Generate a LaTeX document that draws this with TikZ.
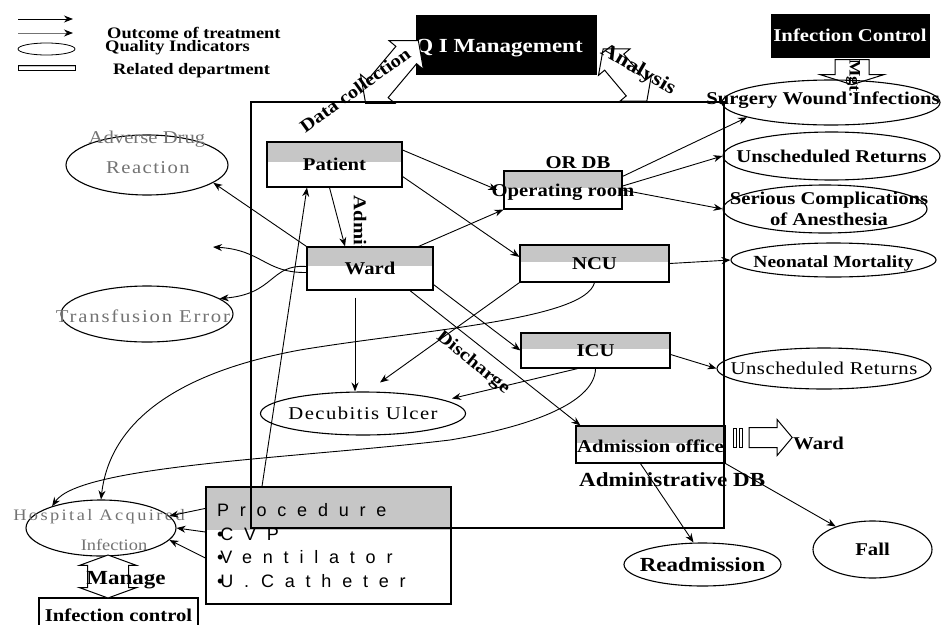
\documentclass[tikz,border=0pt]{standalone}
\usepackage{fontspec}
\setmainfont{Liberation Serif}[FakeStretch=1.15]
\newfontfamily\procfamily{Liberation Sans}[LetterSpace=60]
\usetikzlibrary{shapes.geometric,shapes.arrows,arrows.meta,calc}
\newcommand{\fsz}[1]{\fontsize{#1}{#1}\selectfont}
\newcommand{\bfsz}[1]{\fontsize{#1}{#1}\selectfont\bfseries}
\newcommand{\bul}{\textbullet\hspace{-3pt}}
\tikzset{
  plainbox/.style={draw, line width=1.2pt, fill=white, inner sep=0pt, font=\bfsz{18}},
  dept/.style={plainbox,
    path picture={\fill[gray!45] (path picture bounding box.north west) rectangle
      ($(path picture bounding box.north east)!#1!(path picture bounding box.south east)$);}},
  dept/.default=0.45,
  blackbox/.style={fill=black, draw, inner sep=0pt, text=white, font=\bfsz{18}},
  qi/.style={ellipse, draw, line width=1.1pt, inner sep=0pt},
  conn/.style={-{Stealth[length=9pt,width=7pt]}, line width=0.9pt},
  blk/.style={draw, fill=white, line width=1pt, inner xsep=0pt},
  tag/.style={font=\bfsz{18}, inner sep=0pt},
  faded/.style={text=black!55, inner sep=0pt},
  every label/.style={inner sep=0pt},
}
\begin{document}
\begin{tikzpicture}[x=1pt, y=-1pt]
\useasboundingbox (0,0) rectangle (941,624);
% legend
\coordinate (lg1a) at (18,19); \coordinate (lg1b) at (73,19);
\coordinate (lg2a) at (18,33); \coordinate (lg2b) at (73,33);
\node[qi, line width=0.8pt, minimum width=57, minimum height=12] (lgqi) at (46.5,49) {};
\node[dept, line width=0.8pt, minimum width=57, minimum height=5] (lgdept) at (46.5,67.5) {};
\node[tag, font=\bfsz{16}, anchor=west] (lgout) at (107,33) {Outcome of treatment};
\node[tag, font=\bfsz{16}, anchor=west] (lgqit) at (105,48) {Quality Indicators};
\node[tag, font=\bfsz{16}, anchor=west] (lgdep) at (113,71) {Related department};
\draw[conn] (lg1a) -- (lg1b);
\draw[-{Stealth[length=9pt,width=7pt,color=black]}, line width=0.9pt, black!55] (lg2a) -- (lg2b);

% management
\node[blackbox, minimum width=180, minimum height=59] (qim) at (506,44.5) {};
\node[text=white, font=\bfsz{20}, inner sep=0pt] (qimtxt) at (499,48) {Q I Management};
\node[blackbox, minimum width=158, minimum height=43] (icc) at (850,35.5) {Infection Control};
\node[blk, double arrow, rotate=50, minimum height=82, inner ysep=13pt,
  double arrow head extend=9pt, double arrow tip angle=100] (dcarr) at (392,72) {};
\node[tag, rotate=36] (dctxt) at (355,90) {Data collection};
\node[blk, double arrow, rotate=-50, minimum height=68, inner ysep=12pt,
  double arrow head extend=8pt, double arrow tip angle=100] (anarr) at (625,75) {};
\node[tag, font=\bfsz{20}, rotate=-30] (antxt) at (638,70) {Analysis};
\node[blk, single arrow, rotate=-90, minimum height=25, inner ysep=16.5pt,
  single arrow head extend=15pt, single arrow tip angle=145] (mgtarr) at (852,69.5) {};
\node[tag, font=\bfsz{16}, rotate=-90] (mgttxt) at (853,78) {Mgt.};

% quality indicators
\node[qi, minimum width=162, minimum height=60] (adr) at (147,165) {};
\node[faded, font=\fsz{18}] (adrt1) at (147,139) {Adverse Drug};
\node[faded, font=\fsz{18}\addfontfeatures{LetterSpace=8}] (adrt2) at (148,168) {Reaction};
\node[qi, minimum width=172, minimum height=56] (tre) at (147,314) {};
\node[faded, font=\fsz{18}\addfontfeatures{LetterSpace=10}] (tret) at (143,316) {Transfusion Error};
\node[qi, minimum width=205, minimum height=43,
  label={[font=\fsz{18}\addfontfeatures{LetterSpace=8}]center:Decubitis Ulcer}] (dec) at (363,413.5) {};
\node[qi, minimum width=150, minimum height=56] (hai) at (101,528) {};
\node[faded, font=\fsz{16}\addfontfeatures{LetterSpace=15}] (hait1) at (99,517) {Hospital Acquired};
\node[faded, font=\fsz{16}] (hait2) at (114,545) {Infection};
\node[qi, minimum width=218, minimum height=45,
  label={[font=\bfsz{18}, xshift=-8pt, yshift=2pt]center:Surgery Wound Infections}] (swi) at (831,102.5) {};
\node[qi, minimum width=217, minimum height=48,
  label={[font=\bfsz{18}]center:Unscheduled Returns}] (ur1) at (831.5,156) {};
\node[qi, minimum width=204, minimum height=48,
  label={[font=\fontsize{18}{20.5}\selectfont\bfseries, align=center, xshift=4pt]center:Serious Complications\\of Anesthesia}] (sca) at (825,209) {};
\node[qi, minimum width=205, minimum height=34,
  label={[font=\bfsz{17}, yshift=-3pt]center:Neonatal Mortality}] (nmo) at (833.5,260) {};
\node[qi, minimum width=214, minimum height=41,
  label={[font=\fsz{18}\addfontfeatures{LetterSpace=3}]center:Unscheduled Returns}] (ur2) at (824,368.5) {};
\node[qi, minimum width=157, minimum height=43,
  label={[font=\bfsz{20}]center:Readmission}] (rea) at (702.5,564.5) {};
\node[qi, minimum width=119, minimum height=57,
  label={[font=\bfsz{18}]center:Fall}] (fall) at (872.5,549.5) {};

% departments
\node[tag, rotate=-90] (admit) at (360,224) {Admit};
\node[tag, rotate=-39] (dis) at (473,363) {Discharge};
\node[dept, minimum width=135, minimum height=45] (pat) at (334.5,164.5) {Patient};
\node[dept, minimum width=126, minimum height=43] (ward) at (370,268.5) {Ward};
\node[dept, minimum width=118, minimum height=38,
  label={[font=\bfsz{18}, yshift=-2pt]center:Operating room}] (opr) at (563,190) {};
\node[tag] (ordb) at (578,163) {OR DB};
\node[dept, minimum width=149, minimum height=37] (ncu) at (594.5,263.5) {NCU};
\node[dept, minimum width=149, minimum height=35] (icu) at (595.5,350.5) {ICU};
\node[dept, minimum width=149, minimum height=37,
  label={[font=\bfsz{18}, yshift=-2pt]center:Admission office}] (adm) at (650.5,444.5) {};
\node[tag, font=\bfsz{20}, anchor=west] (admdb) at (579,480) {Administrative DB};
\node[dept=0.37, minimum width=245, minimum height=117, text width=223, inner xsep=11pt,
  align=left, font=\procfamily\fontsize{18}{23.5}\selectfont] (proc) at (328.5,545.5)
  {Procedure\\\bul CVP\\\bul Ventilator\\\bul U.~~Catheter};
\node[plainbox, minimum width=159, minimum height=34] (icl) at (118.5,615) {Infection control};
\node[blk, double arrow, rotate=90, minimum height=43, inner ysep=20pt,
  double arrow head extend=8pt, double arrow tip angle=140] (mngarr) at (108,576.5) {};
\node[tag, font=\bfsz{20}] (mngtxt) at (126,580) {Manage};
\node[blk, single arrow, minimum height=43, inner ysep=9.5pt,
  single arrow head extend=8pt, single arrow tip angle=100] (wardarr) at (766.5,437.5) {};
\node[draw, line width=1pt, inner sep=0pt, minimum width=3, minimum height=19] (strp1) at (734.5,437.5) {};
\node[draw, line width=1pt, inner sep=0pt, minimum width=3, minimum height=19] (strp2) at (740.5,437.5) {};
\node[tag, anchor=west] (wardtxt) at (793,443) {Ward};

% hospital frame
\node[draw, line width=1.1pt, minimum width=473, minimum height=426, inner sep=0pt] (frame) at (487.5,315) {};

% flows
\coordinate (c1end) at (213,247);
\draw[conn] (pat.12) -- ([xshift=-6pt]opr.west);
\draw[conn] (pat.-10) -- (ncu.175);
\draw[conn] ([xshift=-5pt]pat.south) -- ([xshift=-25pt]ward.north);
\draw[conn] ([xshift=-15pt]ward.north east) -- (opr.south west);
\draw[conn] (ward.north west) -- (adr.-15);
\draw[conn] ([yshift=-4pt]ward.west) .. controls (265,273) and (262,250) .. (c1end);
\draw[conn] ([yshift=2pt]ward.west) .. controls (270,264) and (275,294) .. (tre.12);
\draw[conn] ([xshift=-15pt,yshift=-7pt]ward.south) -- ([xshift=-8pt]dec.north);
\draw[conn] ([yshift=6pt]ward.south east) -- (icu.west);
\draw[conn] ([xshift=40pt]ward.south) -- ([xshift=5pt]adm.north west);
\draw[conn] (ncu.south west) -- ([shift={(17pt,9pt)}]dec.north);
\draw[conn] (ncu.south) .. controls (585,320) and (420,330) .. (300,350)
  .. controls (180,372) and (110,420) .. (hai.north);
\draw[conn] (icu.south) .. controls (595,400) and (540,425) .. (450,440)
  .. controls (300,458) and (80,465) .. (hai.156);
\draw[conn] ([xshift=-18pt]icu.south) -- ([shift={(89pt,15pt)}]dec.center);
\draw[conn] ([yshift=-4pt]icu.east) -- (ur2.west);
\draw[conn] (ncu.east) -- (nmo.west);
\draw[conn] ([yshift=-6pt]opr.north east) -- (swi.190);
\draw[conn] ([yshift=4pt]opr.east) -- (ur1.west);
\draw[conn] (opr.east) -- (sca.west);
\draw[conn] ([xshift=-66.5pt]proc.north) -- ([xshift=-27.5pt]pat.south);
\draw[conn] ([yshift=-22pt]proc.north west) -- (hai.10);
\draw[conn] ([yshift=13.5pt]proc.west) -- (hai.east);
\draw[conn] ([yshift=-12.5pt]proc.west) -- (hai.-10);
\draw[conn] ([xshift=-10pt]adm.south) -- ([xshift=-9pt]rea.north);
\draw[conn] (adm.south east) -- (fall.148);
\end{tikzpicture}
\end{document}
